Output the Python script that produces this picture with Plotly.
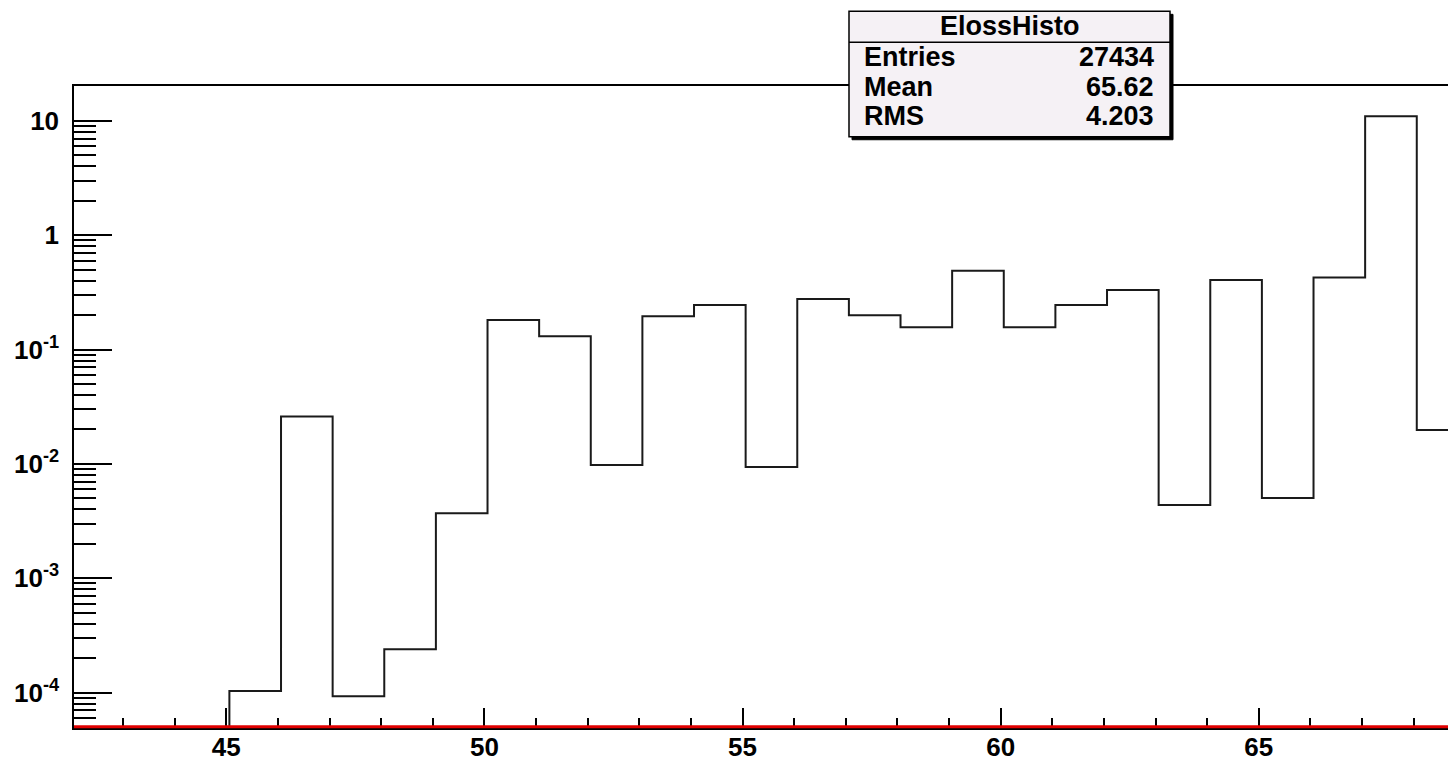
import numpy as np
import plotly.graph_objects as go

# ---- data ----
bin_low_edges = [45.06, 46.06, 47.06, 48.06, 49.06, 50.06, 51.06, 52.06, 53.06, 54.06,
                 55.06, 56.06, 57.06, 58.06, 59.06, 60.06, 61.06, 62.06, 63.06, 64.06,
                 65.06, 66.06, 67.06, 68.06]
bin_width = 1.0
bin_contents = [1.03e-4, 0.026, 9.3e-5, 2.39e-4, 3.7e-3, 0.181, 0.131, 0.0098, 0.196, 0.245,
                0.0094, 0.277, 0.20, 0.157, 0.488, 0.157, 0.245, 0.332, 0.00438, 0.406,
                0.00504, 0.426, 11.0, 0.0198]

stat_title = "ElossHisto"
stat_names = ["Entries", "Mean", "RMS"]
stat_values = ["27434", "65.62", "4.203"]

x_range = [42.05, 68.82]
x_major_ticks = [45, 50, 55, 60, 65]
x_minor_ticks = list(range(43, 70))
y_log_range = [-4.31, 1.305]
y_tick_vals = [1e-4, 1e-3, 1e-2, 1e-1, 1, 10]
y_tick_text = ["10<sup>-4</sup>", "10<sup>-3</sup>", "10<sup>-2</sup>", "10<sup>-1</sup>", "1", "10"]

# ---- layout geometry (window pixels; page body has an 8px margin) ----
OFF = 8
WIN_W, WIN_H = 1456, 762
W, H = WIN_W - OFF, WIN_H - OFF
L, R, T, B = 74, 1456, 86, 731
FONT = "Liberation Sans, Arial, Helvetica, sans-serif"


def px_x(px):
    return (px - L) / (R - L)


def px_y(py):
    return (B - py) / (B - T)


# histogram outline as a step line
floor_val = 10 ** (y_log_range[0] - 1)
xs = [bin_low_edges[0]] + list(bin_low_edges) + [bin_low_edges[-1] + bin_width]
ys = [floor_val] + list(bin_contents) + [bin_contents[-1]]

fig = go.Figure()
fig.add_trace(go.Scatter(x=xs, y=ys, mode="lines", line=dict(color="#1a1a1a", width=2, shape="hv"),
                         hoverinfo="skip", showlegend=False))

fig.update_layout(
    width=W, height=H,
    margin=dict(l=L - OFF, r=WIN_W - R, t=T - OFF, b=WIN_H - B),
    paper_bgcolor="white", plot_bgcolor="white",
    font=dict(family=FONT, size=26, color="black"),
    showlegend=False,
)
fig.update_xaxes(
    range=x_range, showgrid=False, zeroline=False,
    showline=True, linecolor="black", linewidth=1.5, mirror=True,
    tickmode="array", tickvals=x_major_ticks,
    ticktext=["<b>%d</b>" % v for v in x_major_ticks],
    ticks="inside", ticklen=20, tickwidth=1.5, tickcolor="black",
    tickfont=dict(family=FONT, size=26, color="black"),
    ticklabelstandoff=-5,
    minor=dict(ticks="inside", ticklen=10, tickwidth=1.5, tickcolor="black",
               tickmode="array", tickvals=x_minor_ticks),
)
fig.update_yaxes(
    type="log", range=y_log_range, showgrid=False, zeroline=False,
    showline=True, linecolor="black", linewidth=1.5, mirror=False,
    tickmode="array", tickvals=y_tick_vals,
    ticktext=["<b>" + t + "</b>" for t in y_tick_text],
    ticks="inside", ticklen=38, tickwidth=1.5, tickcolor="black",
    tickfont=dict(family=FONT, size=26, color="black"),
    ticklabelstandoff=8,
    minor=dict(ticks="inside", ticklen=22, tickwidth=1.5, tickcolor="black", dtick="D1"),
)

# red line along the bottom
fig.add_shape(type="line", xref="paper", yref="paper", x0=0, x1=1, y0=0.002, y1=0.002,
              line=dict(color="#e00000", width=3), layer="above")

# stat box: shadow, box, separator
bx0, bx1, by0, by1 = 849, 1170, 11, 137
fig.add_shape(type="rect", xref="paper", yref="paper",
              x0=px_x(bx0 + 3), x1=px_x(bx1 + 3), y0=px_y(by1 + 3), y1=px_y(by0 + 3),
              fillcolor="black", line=dict(color="black", width=1))
fig.add_shape(type="rect", xref="paper", yref="paper",
              x0=px_x(bx0), x1=px_x(bx1), y0=px_y(by1), y1=px_y(by0),
              fillcolor="#f5f1f5", line=dict(color="black", width=1.5))
fig.add_shape(type="line", xref="paper", yref="paper",
              x0=px_x(bx0), x1=px_x(bx1), y0=px_y(42), y1=px_y(42),
              line=dict(color="black", width=1.5))

STAT_SIZE = 27
fig.add_annotation(xref="paper", yref="paper", x=px_x((bx0 + bx1) / 2), y=px_y(26),
                   text="<b>" + stat_title + "</b>", showarrow=False,
                   font=dict(family=FONT, size=STAT_SIZE, color="black"), xanchor="center", yanchor="middle")
row_y = [57, 87, 116]
for name, val, ry in zip(stat_names, stat_values, row_y):
    fig.add_annotation(xref="paper", yref="paper", x=px_x(862), y=px_y(ry),
                       text="<b>" + name + "</b>", showarrow=False,
                       font=dict(family=FONT, size=STAT_SIZE, color="black"), xanchor="left", yanchor="middle")
    fig.add_annotation(xref="paper", yref="paper", x=px_x(1156), y=px_y(ry),
                       text="<b>" + val + "</b>", showarrow=False,
                       font=dict(family=FONT, size=STAT_SIZE, color="black"), xanchor="right", yanchor="middle")

fig.write_html("out.html")
